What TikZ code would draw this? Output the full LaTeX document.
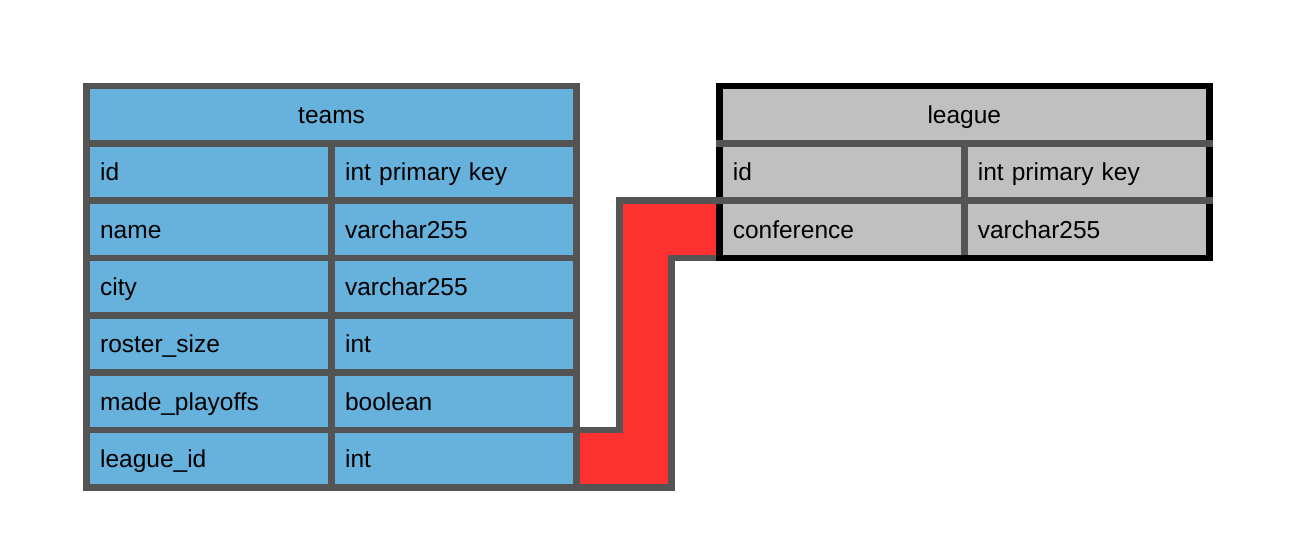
\documentclass[tikz,border=0pt]{standalone}
\usepackage{fontspec}
\newfontfamily\fieldfont{Liberation Sans}
\definecolor{teamblue}{RGB}{103,177,221}
\definecolor{leaguegray}{RGB}{191,192,191}
\definecolor{linegray}{RGB}{84,84,84}
\definecolor{linkred}{RGB}{253,49,47}
\tikzset{
  cell/.style={draw=linegray, line width=6.7pt, minimum height=57.35pt, inner sep=0pt, outer sep=0pt,
    inner xsep=13.5pt, text width=218pt, align=left, text height=17.5pt, text depth=0pt,
    font={\fieldfont\fontsize{24.5}{29}\selectfont}},
  headcell/.style={cell, text width=463.2pt, align=center},
  teamcell/.style={fill=teamblue},
  leaguecell/.style={fill=leaguegray}
}
\begin{document}
\begin{tikzpicture}[x=1pt,y=-1pt]
\useasboundingbox (0,0) rectangle (1308,558);
\coordinate (jl) at (619.7,0);
\coordinate (jr) at (671.7,0);
\node [headcell,teamcell] (teams) at (331.6,114.7) {teams};
\node [cell,teamcell] (tidk) at (209.1,172.0) {id};
\node [cell,teamcell] (tidv) at (454.1,172.0) {int primary key};
\node [cell,teamcell] (tnamek) at (209.1,229.4) {name};
\node [cell,teamcell] (tnamev) at (454.1,229.4) {varchar255};
\node [cell,teamcell] (tcityk) at (209.1,286.7) {city};
\node [cell,teamcell] (tcityv) at (454.1,286.7) {varchar255};
\node [cell,teamcell] (trosterk) at (209.1,344.1) {roster\_size};
\node [cell,teamcell] (trosterv) at (454.1,344.1) {int};
\node [cell,teamcell] (tplayk) at (209.1,401.4) {made\_playoffs};
\node [cell,teamcell] (tplayv) at (454.1,401.4) {boolean};
\node [cell,teamcell] (tleaguek) at (209.1,458.8) {league\_id};
\node [cell,teamcell] (tleaguev) at (454.1,458.8) {int};
\node [headcell,leaguecell] (league) at (964.3,114.7) {league};
\node [cell,leaguecell] (lidk) at (841.8,172.0) {id};
\node [cell,leaguecell] (lidv) at (1086.8,172.0) {int primary key};
\node [cell,leaguecell] (lconfk) at (841.8,229.4) {conference};
\node [cell,leaguecell] (lconfv) at (1086.8,229.4) {varchar255};
% link from league_id to conference
\fill [linkred, draw=linegray, line width=6.7pt]
  (tleaguev.north east) -- (jl |- tleaguev.north east) -- (jl |- lconfk.north west)
  -- (lconfk.north west) -- (lconfk.south west) -- (jr |- lconfk.south west)
  -- (jr |- tleaguev.south east) -- (tleaguev.south east) -- cycle;
\draw [linegray, line width=6.7pt] (tleaguev.north east) -- (tleaguev.south east);
% outer frame of the league table
\draw [black, line width=6.7pt] (league.north west) rectangle (lconfv.south east);
\draw [linegray, line width=6.7pt, line cap=rect] (lidk.north west) -- (lidv.north east);
\draw [linegray, line width=6.7pt, line cap=rect] (lconfk.north west) -- (lconfv.north east);
\end{tikzpicture}
\end{document}
